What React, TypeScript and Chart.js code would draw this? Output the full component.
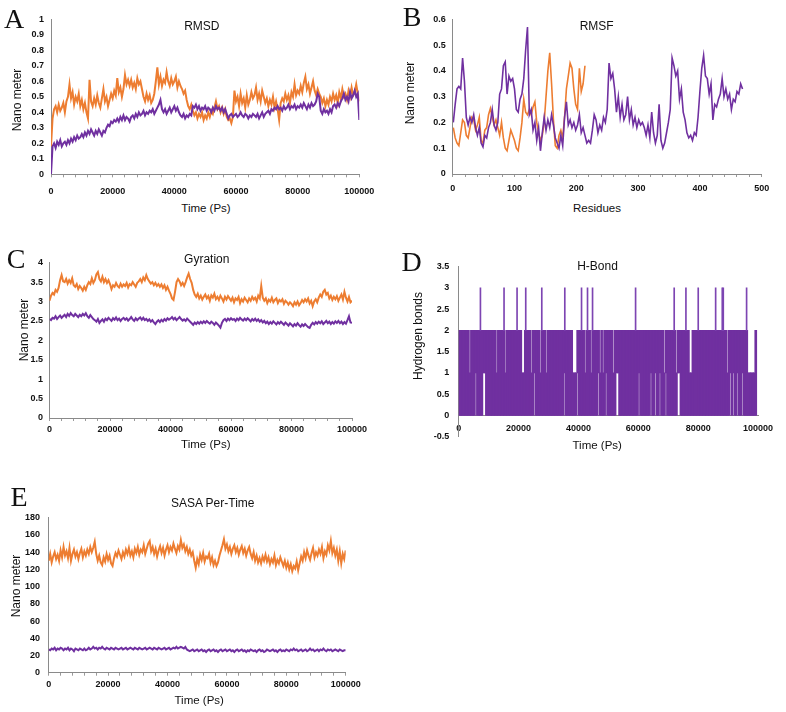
import React, { useEffect, useRef } from 'react';
import { Chart, registerables } from 'chart.js';

Chart.register(...registerables);

const ORANGE = '#ED7D31';
const PURPLE = '#7030A0';
const PEAK_PURPLE = '#7d45b2';
const AXIS_GREY = '#8a8a8a';
const TICK_GREY = '#9a9a9a';
const SANS = '"Liberation Sans", Arial, Helvetica, sans-serif';
const SERIF = '"Liberation Serif", "Times New Roman", Times, serif';

// ---- RMSD (nm), one sample every 500 ps from 0 to 100000 ps ----
const rmsdStepPs = 500;
const rmsdOrange = [
  0.18, 0.36, 0.42, 0.44, 0.40, 0.45, 0.41, 0.43, 0.46, 0.40,
  0.47, 0.50, 0.58, 0.49, 0.53, 0.45, 0.50, 0.47, 0.52, 0.44,
  0.48, 0.42, 0.46, 0.40, 0.36, 0.61, 0.47, 0.44, 0.49, 0.45,
  0.51, 0.46, 0.43, 0.49, 0.55, 0.47, 0.50, 0.44, 0.48, 0.52,
  0.49, 0.54, 0.51, 0.62, 0.53, 0.56, 0.50, 0.55, 0.64, 0.58,
  0.61, 0.57, 0.61, 0.56, 0.59, 0.55, 0.62, 0.58, 0.60, 0.55,
  0.50, 0.47, 0.52, 0.48, 0.51, 0.46, 0.48, 0.52, 0.60, 0.69,
  0.58, 0.63, 0.57, 0.61, 0.59, 0.66, 0.60, 0.57, 0.62, 0.58,
  0.60, 0.63, 0.56, 0.60, 0.57, 0.55, 0.52, 0.54, 0.48, 0.44,
  0.42, 0.45, 0.41, 0.38, 0.40, 0.36, 0.39, 0.37, 0.40, 0.35,
  0.38, 0.36, 0.40, 0.37, 0.41, 0.39, 0.43, 0.47, 0.42, 0.44,
  0.40, 0.43, 0.39, 0.42, 0.37, 0.35, 0.36, 0.33, 0.37, 0.54,
  0.47, 0.50, 0.44, 0.52, 0.46, 0.49, 0.43, 0.51, 0.45, 0.48,
  0.53, 0.49, 0.51, 0.56, 0.48, 0.52, 0.47, 0.54, 0.50, 0.46,
  0.49, 0.44, 0.48, 0.45, 0.50, 0.43, 0.47, 0.42, 0.35, 0.46,
  0.49, 0.47, 0.52, 0.48, 0.51, 0.46, 0.53, 0.50, 0.58, 0.51,
  0.54, 0.52, 0.57, 0.53, 0.59, 0.63, 0.55, 0.58, 0.52, 0.56,
  0.60, 0.54, 0.51, 0.55, 0.52, 0.50, 0.46, 0.49, 0.44, 0.48,
  0.45, 0.50, 0.47, 0.52, 0.48, 0.51, 0.46, 0.53, 0.49, 0.55,
  0.50, 0.52, 0.48, 0.54, 0.50, 0.56, 0.51, 0.53, 0.58, 0.52,
  0.47,
];
const rmsdPurple = [
  0.00, 0.18, 0.20, 0.17, 0.21, 0.19, 0.22, 0.18, 0.20, 0.21,
  0.19, 0.22, 0.20, 0.23, 0.21, 0.24, 0.22, 0.25, 0.23, 0.24,
  0.26, 0.24, 0.27, 0.25, 0.28, 0.26, 0.29, 0.27, 0.25, 0.28,
  0.26, 0.29, 0.27, 0.25, 0.28, 0.27, 0.30, 0.32, 0.31, 0.34,
  0.33, 0.35, 0.34, 0.36, 0.34, 0.37, 0.35, 0.38, 0.35, 0.37,
  0.36, 0.34, 0.37, 0.38, 0.36, 0.39, 0.37, 0.40, 0.38, 0.39,
  0.41, 0.38, 0.40, 0.39, 0.41, 0.40, 0.42, 0.39, 0.41, 0.43,
  0.45, 0.48, 0.42, 0.40, 0.42, 0.39, 0.41, 0.43, 0.40, 0.42,
  0.44, 0.41, 0.43, 0.40, 0.38, 0.37, 0.39, 0.36, 0.38, 0.37,
  0.39, 0.38, 0.44, 0.43, 0.45, 0.42, 0.44, 0.41, 0.43, 0.42,
  0.44, 0.41, 0.43, 0.42, 0.40, 0.43, 0.41, 0.44, 0.42, 0.43,
  0.41, 0.43, 0.40, 0.42, 0.39, 0.36, 0.38, 0.39, 0.37, 0.38,
  0.39, 0.37, 0.38, 0.40, 0.38, 0.37, 0.39, 0.38, 0.36, 0.38,
  0.37, 0.39, 0.38, 0.37, 0.39, 0.36, 0.38, 0.40, 0.37, 0.39,
  0.40, 0.41, 0.39, 0.42, 0.41, 0.43, 0.42, 0.44, 0.42, 0.43,
  0.41, 0.44, 0.42, 0.43, 0.45, 0.42, 0.44, 0.43, 0.45, 0.42,
  0.44, 0.43, 0.45, 0.43, 0.46, 0.44, 0.42, 0.45, 0.43, 0.46,
  0.44, 0.45, 0.47, 0.52, 0.50, 0.41, 0.39, 0.42, 0.40, 0.41,
  0.39, 0.42, 0.40, 0.44, 0.45, 0.43, 0.46, 0.44, 0.47, 0.49,
  0.52, 0.48, 0.50, 0.47, 0.53, 0.49, 0.51, 0.54, 0.50, 0.52,
  0.35,
];

// ---- RMSF (nm) per residue, every third residue starting at residue 1 ----
const rmsfFirstResidue = 1;
const rmsfResidueStep = 3;
const rmsfPurple = [
  0.20, 0.27, 0.33, 0.34, 0.33, 0.45, 0.36, 0.22, 0.19, 0.22,
  0.20, 0.23, 0.18, 0.15, 0.18, 0.12, 0.105, 0.15, 0.14, 0.18,
  0.20, 0.25, 0.19, 0.17, 0.20, 0.31, 0.33, 0.42, 0.435, 0.31,
  0.38, 0.36, 0.37, 0.33, 0.25, 0.24, 0.29, 0.31, 0.37, 0.48,
  0.57, 0.23, 0.25, 0.17, 0.20, 0.13, 0.18, 0.09, 0.16, 0.22,
  0.17, 0.21, 0.18, 0.23, 0.19, 0.14, 0.12, 0.10, 0.15, 0.11,
  0.22, 0.28, 0.19, 0.21, 0.18, 0.20, 0.17, 0.19, 0.23, 0.16,
  0.18, 0.15, 0.12, 0.13, 0.12, 0.17, 0.23, 0.21, 0.16, 0.19,
  0.17, 0.22, 0.20, 0.25, 0.43, 0.37, 0.39, 0.33, 0.24, 0.30,
  0.22, 0.27, 0.21, 0.23, 0.30, 0.21, 0.25, 0.19, 0.22, 0.18,
  0.21, 0.19, 0.20, 0.18, 0.15, 0.19, 0.14, 0.24, 0.16, 0.12,
  0.15, 0.27, 0.13, 0.10, 0.12, 0.16, 0.20, 0.25, 0.45, 0.42,
  0.38, 0.40, 0.29, 0.33, 0.24, 0.21, 0.16, 0.14, 0.15, 0.13,
  0.16, 0.15, 0.22, 0.32, 0.41, 0.46, 0.38, 0.37, 0.31, 0.35,
  0.21, 0.27, 0.26, 0.29, 0.31, 0.37, 0.30, 0.33, 0.29, 0.31,
  0.25, 0.29, 0.28, 0.32, 0.31, 0.35, 0.33,
];
const rmsfOrange = [
  0.18, 0.14, 0.12, 0.11, 0.16, 0.21, 0.20, 0.15, 0.14, 0.18,
  0.22, 0.21, 0.17, 0.19, 0.22, 0.13, 0.12, 0.17, 0.18, 0.23,
  0.255, 0.22, 0.19, 0.21, 0.18, 0.15, 0.20, 0.14, 0.10, 0.09,
  0.13, 0.17, 0.15, 0.13, 0.10, 0.09, 0.14, 0.20, 0.29, 0.24,
  0.23, 0.25, 0.23, 0.26, 0.28, 0.20, 0.16, 0.13, 0.15, 0.20,
  0.30, 0.40, 0.47, 0.35, 0.21, 0.11, 0.10, 0.15, 0.17, 0.14,
  0.22, 0.33, 0.38, 0.43, 0.41, 0.33, 0.27, 0.25, 0.41, 0.32,
  0.35, 0.42,
];

// ---- Radius of gyration (nm), every 500 ps ----
const gyrationStepPs = 500;
const gyrationOrange = [
  3.02, 3.15, 3.22, 3.18, 3.30, 3.25, 3.35, 3.55, 3.68, 3.52,
  3.50, 3.58, 3.46, 3.55, 3.48, 3.60, 3.42, 3.38, 3.45, 3.32,
  3.40, 3.35, 3.28, 3.38, 3.30, 3.42, 3.50, 3.45, 3.60, 3.48,
  3.55, 3.70, 3.76, 3.58, 3.52, 3.64, 3.50, 3.58, 3.48, 3.55,
  3.45, 3.32, 3.42, 3.38, 3.48, 3.40, 3.36, 3.46, 3.38, 3.44,
  3.40, 3.48, 3.36, 3.45, 3.42, 3.50, 3.44, 3.38, 3.48, 3.52,
  3.58, 3.50, 3.62, 3.55, 3.68, 3.58, 3.52, 3.46, 3.50, 3.42,
  3.48, 3.40, 3.45, 3.38, 3.44, 3.35, 3.42, 3.30, 3.38, 3.28,
  3.20, 3.08, 3.04, 3.25, 3.50, 3.58, 3.52, 3.42, 3.48, 3.40,
  3.50, 3.62, 3.72, 3.58, 3.48, 3.30, 3.18, 3.12, 3.20, 3.08,
  3.15, 3.05, 3.12, 3.18, 3.08, 3.14, 3.02, 3.16, 3.10, 3.20,
  3.06, 3.12, 3.04, 3.15, 3.08, 3.00, 3.12, 3.05, 3.14, 3.08,
  3.02, 3.10, 2.98, 3.08, 3.04, 3.12, 2.96, 3.06, 3.00, 3.10,
  3.04, 2.98, 3.08, 3.02, 3.12, 3.05, 3.10, 3.00, 3.15, 3.08,
  3.40, 3.10, 3.02, 3.08, 2.96, 3.05, 3.00, 3.10, 2.98, 3.04,
  3.08, 2.96, 3.04, 3.00, 3.06, 2.94, 3.02, 2.98, 2.92, 2.98,
  2.94, 2.88, 2.98, 2.92, 3.00, 2.90, 2.96, 3.04, 2.98, 3.06,
  3.00, 3.08, 2.95, 3.02, 2.88, 3.00, 3.06, 2.98, 3.10, 3.18,
  3.12, 3.25, 3.30, 3.18, 3.22, 3.08, 3.15, 3.04, 3.12, 3.06,
  3.14, 3.02, 3.10, 3.18, 3.05, 3.25, 3.10, 3.00, 3.12, 2.98,
  3.02,
];
const gyrationPurple = [
  2.55, 2.52, 2.58, 2.56, 2.62, 2.55, 2.60, 2.64, 2.58, 2.62,
  2.66, 2.60, 2.68, 2.63, 2.70, 2.65, 2.62, 2.68, 2.64, 2.60,
  2.66, 2.62, 2.68, 2.64, 2.70, 2.62, 2.58, 2.65, 2.60, 2.55,
  2.52, 2.48, 2.55, 2.45, 2.50, 2.54, 2.48, 2.56, 2.52, 2.58,
  2.54, 2.50, 2.57, 2.53, 2.59, 2.52, 2.56, 2.50, 2.55, 2.58,
  2.53, 2.57, 2.51, 2.55, 2.60, 2.54, 2.50, 2.57, 2.52, 2.56,
  2.59, 2.53, 2.58, 2.52, 2.55, 2.50, 2.54, 2.48, 2.52, 2.46,
  2.42, 2.48, 2.52, 2.47, 2.53, 2.49, 2.55, 2.51, 2.57, 2.53,
  2.56, 2.60, 2.54, 2.58, 2.52, 2.56, 2.60, 2.55, 2.51, 2.54,
  2.50, 2.56, 2.52, 2.48, 2.44, 2.40, 2.46, 2.42, 2.47, 2.43,
  2.48, 2.44, 2.49, 2.45, 2.50, 2.46, 2.43, 2.48, 2.45, 2.40,
  2.46, 2.42, 2.38, 2.33, 2.45, 2.52, 2.55, 2.50, 2.56, 2.52,
  2.57, 2.53, 2.55, 2.50, 2.56, 2.52, 2.58, 2.54, 2.51, 2.56,
  2.52, 2.57, 2.53, 2.49, 2.55, 2.51, 2.56, 2.50, 2.54, 2.48,
  2.52, 2.46, 2.50, 2.44, 2.48, 2.42, 2.47, 2.43, 2.49, 2.45,
  2.41, 2.47, 2.43, 2.48, 2.44, 2.40, 2.46, 2.42, 2.38, 2.44,
  2.40, 2.36, 2.42, 2.38, 2.44, 2.39, 2.35, 2.41, 2.37, 2.42,
  2.38, 2.34, 2.32, 2.40, 2.45, 2.41, 2.47, 2.43, 2.48, 2.44,
  2.49, 2.42, 2.46, 2.50, 2.44, 2.48, 2.42, 2.47, 2.43, 2.49,
  2.45, 2.50, 2.44, 2.48, 2.42, 2.47, 2.43, 2.52, 2.62, 2.46,
  2.45,
];

// ---- Hydrogen bonds: lowest / highest count inside each 500 ps window ----
const hbondWindowPs = 500;
const hbondWindowMin = [
  0, 0, 0, 0, 0, 0, 0, 0, 0, 0, 0, 1, 0, 0, 0, 0, 1, 1, 0, 0,
  0, 0, 0, 0, 0, 0, 0, 0, 0, 0, 0, 0, 0, 0, 0, 0, 0, 0, 0, 0,
  0, 0, 0, 0, 0, 0, 0, 0, 0, 0, 1, 0, 0, 0, 0, 0, 0, 0, 0, 0,
  0, 0, 0, 0, 0, 0, 0, 0, 0, 0, 1, 0, 0, 0, 0, 0, 0, 0, 0, 1,
  0, 0, 0, 0, 0, 0, 0, 0, 0, 0, 0, 0, 0, 1, 0, 0, 0, 0, 1, 0,
  0, 0, 0, 0, 0, 1, 1, 0, 0, 0, 0, 0, 0, 0, 0, 0, 0, 0, 0, 0,
  1, 0, 0, 0, 0, 0, 0, 0, 1, 0, 0, 1, 0, 0, 1, 0, 0, 0, 1, 0,
  0, 0, 0, 0, 0, 0, 1, 1, 0, 0, 0, 0, 0, 0, 0, 0, 0, 0, 0, 0,
  0, 0, 0, 0, 0, 0, 0, 0, 0, 0, 0, 0, 0, 0, 0, 0, 0, 0, 0, 0,
  0, 1, 0, 1, 0, 0, 1, 0, 0, 1, 0, 0, 0, 0, 0, 0, 0, 0, 0,
];
const hbondWindowMax = [
  2, 2, 2, 2, 2, 2, 2, 1, 2, 2, 2, 2, 2, 2, 2, 2, 2, 2, 2, 2,
  2, 2, 2, 2, 2, 1, 2, 2, 2, 2, 2, 1, 2, 2, 2, 2, 2, 2, 2, 2,
  2, 2, 1, 1, 2, 2, 2, 2, 1, 2, 2, 2, 2, 2, 1, 2, 2, 2, 1, 2,
  2, 2, 2, 2, 2, 2, 2, 2, 2, 2, 2, 2, 2, 2, 2, 2, 1, 1, 1, 2,
  2, 2, 2, 2, 1, 2, 2, 2, 1, 2, 2, 2, 2, 2, 1, 2, 1, 2, 2, 2,
  2, 2, 2, 1, 2, 2, 2, 2, 2, 2, 2, 2, 2, 2, 2, 2, 2, 2, 2, 2,
  2, 2, 2, 2, 2, 2, 2, 2, 2, 2, 2, 2, 2, 2, 2, 2, 2, 1, 2, 2,
  2, 2, 2, 2, 2, 1, 2, 2, 2, 2, 2, 2, 2, 2, 1, 1, 2, 2, 2, 2,
  2, 2, 2, 2, 2, 2, 2, 2, 2, 2, 2, 2, 2, 2, 2, 2, 2, 2, 2, 1,
  2, 2, 2, 2, 2, 2, 2, 2, 2, 2, 2, 2, 2, 1, 1, 1, 1, 1, 2,
];
// frames (ps) where a third hydrogen bond appears
const hbondTriplePs = [
  7260, 15150, 19500, 22400, 27760, 35450, 41040, 43040, 44720,
  59100, 72000, 75920, 80030, 85850, 88060, 88400, 96190,
];

// ---- SASA, every 500 ps ----
const sasaStepPs = 500;
const sasaOrange = [
  130, 138, 128, 135, 140, 132, 137, 130, 142, 134,
  146, 136, 141, 133, 145, 130, 138, 143, 135, 140,
  132, 139, 144, 134, 141, 136, 143, 138, 146, 140,
  145, 152, 138, 130, 136, 128, 125, 134, 129, 138,
  131, 136, 127, 124, 133, 139, 135, 142, 137, 132,
  140, 135, 143, 138, 145, 136, 141, 134, 144, 139,
  146, 137, 143, 140, 148, 138, 144, 150, 153, 141,
  146, 138, 144, 135, 142, 147, 139, 145, 136, 143,
  148, 140, 146, 142, 150, 144, 139, 147, 143, 154,
  145, 149, 141, 146, 138, 143, 136, 140, 130, 122,
  132, 126, 137, 131, 139, 129, 135, 133, 138, 128,
  134, 125, 130, 124, 128, 136, 142, 148, 155, 144,
  149, 141, 146, 138, 144, 148, 140, 145, 137, 143,
  147, 139, 144, 136, 142, 146, 138, 133, 140, 130,
  136, 128, 133, 127, 135, 130, 137, 129, 134, 126,
  132, 128, 136, 125, 131, 127, 134, 129, 124, 130,
  122, 128, 120, 126, 118, 124, 121, 129, 119, 127,
  135, 130, 140, 133, 142, 136, 131, 139, 145, 134,
  140, 136, 143, 138, 146, 133, 141, 137, 148, 142,
  153, 139, 145, 136, 143, 130, 141, 127, 138, 132,
  142,
];
const sasaPurple = [
  27, 26, 28, 27, 29, 26, 28, 27, 29, 28,
  26, 28, 27, 29, 26, 28, 27, 25, 28, 27,
  26, 28, 27, 26, 28, 26, 27, 29, 27, 28,
  30, 28, 29, 27, 29, 28, 30, 28, 27, 29,
  28, 27, 29, 28, 27, 29, 28, 27, 28, 29,
  27, 28, 29, 27, 28, 29, 28, 27, 29, 28,
  27, 29, 28, 27, 28, 29, 27, 28, 29, 28,
  27, 29, 28, 27, 29, 28, 27, 28, 29, 27,
  28, 29, 27, 28, 29, 28, 30, 28, 29, 30,
  29, 28, 30, 27, 26, 25, 26, 27, 25, 26,
  27, 25, 26, 27, 25, 26, 24, 26, 27, 25,
  26, 27, 25, 26, 24, 26, 27, 25, 26, 27,
  25, 26, 27, 25, 26, 24, 26, 27, 25, 26,
  27, 25, 26, 24, 26, 25, 27, 26, 25, 26,
  24, 26, 27, 25, 26, 24, 25, 27, 26, 25,
  26, 27, 25, 26, 24, 26, 27, 25, 26, 25,
  27, 26, 25, 27, 26, 28, 26, 27, 25, 26,
  27, 25, 26, 27, 25, 26, 28, 26, 27, 25,
  26, 27, 25, 27, 26, 28, 26, 25, 27, 26,
  27, 25, 26, 27, 26, 25, 27, 26, 25, 26,
  26,
];

// ---------------- chart helpers ----------------
const toPoints = (values: number[], step: number, start = 0) =>
  values.map((v, i) => ({ x: start + i * step, y: v }));

const tickFont = { family: SANS, size: 9, weight: 'bold' as const };

// pin an axis to a fixed thickness and drop the extra label padding Chart.js reserves
function lockScale(size: number, horizontal: boolean) {
  return (scale: any) => {
    if (horizontal) scale.height = size;
    else scale.width = size;
    scale.paddingLeft = 0;
    scale.paddingRight = 0;
    scale.paddingTop = 0;
    scale.paddingBottom = 0;
  };
}

function xAxis(max: number, step: number, labelEvery: number, height: number, padding: number, marks = true): any {
  return {
    type: 'linear',
    min: 0,
    max,
    offset: false,
    ticks: {
      stepSize: step,
      autoSkip: false,
      maxRotation: 0,
      minRotation: 0,
      padding,
      color: '#111',
      font: tickFont,
      callback: (v: number) => {
        const n = Math.round(v);
        return n % labelEvery === 0 ? String(n) : '';
      },
    },
    grid: {
      display: marks,
      drawOnChartArea: false,
      drawTicks: marks,
      tickLength: marks ? 3 : 0,
      color: TICK_GREY,
      offset: false,
    },
    border: { display: true, color: AXIS_GREY, width: 1 },
    afterFit: lockScale(height, true),
  };
}

function yAxis(min: number, max: number, step: number, width: number, padding: number): any {
  return {
    type: 'linear',
    min,
    max,
    ticks: {
      stepSize: step,
      autoSkip: false,
      padding,
      color: '#111',
      font: tickFont,
      callback: (v: number) => String(Math.round(v * 100) / 100),
    },
    grid: { display: false, drawTicks: false, tickLength: 0 },
    border: { display: true, color: AXIS_GREY, width: 1 },
    afterFit: lockScale(width, false),
  };
}

const lineSet = (data: any[], color: string, width = 1.5) => ({
  data,
  borderColor: color,
  backgroundColor: color,
  borderWidth: width,
  pointRadius: 0,
  tension: 0,
  fill: false,
});

const baseOptions = (padding: any, scales: any): any => ({
  responsive: false,
  animation: false,
  devicePixelRatio: 1,
  events: [],
  layout: { padding },
  plugins: { legend: { display: false }, tooltip: { enabled: false }, title: { display: false } },
  scales,
});

function rmsdConfig(): any {
  return {
    type: 'line',
    data: {
      datasets: [
        lineSet(toPoints(rmsdPurple, rmsdStepPs), PURPLE, 2),
        lineSet(toPoints(rmsdOrange, rmsdStepPs), ORANGE, 2),
      ],
    },
    options: baseOptions(
      { left: 0, top: 19.3, right: 33.7, bottom: 0 },
      { x: xAxis(100000, 4000, 20000, 25.7, 8.8), y: yAxis(0, 1, 0.1, 51, 7) }
    ),
  };
}

function rmsfConfig(): any {
  return {
    type: 'line',
    data: {
      datasets: [
        lineSet(toPoints(rmsfPurple, rmsfResidueStep, rmsfFirstResidue), PURPLE, 1.6),
        lineSet(toPoints(rmsfOrange, rmsfResidueStep, rmsfFirstResidue), ORANGE, 1.6),
      ],
    },
    options: baseOptions(
      { left: 0, top: 19.3, right: 24.3, bottom: 0 },
      { x: xAxis(500, 20, 100, 26, 5.9), y: yAxis(0, 0.6, 0.1, 59.7, 7) }
    ),
  };
}

function gyrationConfig(): any {
  return {
    type: 'line',
    data: {
      datasets: [
        lineSet(toPoints(gyrationPurple, gyrationStepPs), PURPLE, 2),
        lineSet(toPoints(gyrationOrange, gyrationStepPs), ORANGE, 2),
      ],
    },
    options: baseOptions(
      { left: 0, top: 27.7, right: 41, bottom: 0 },
      { x: xAxis(100000, 4000, 20000, 37, 3.4), y: yAxis(0, 4, 0.5, 49.5, 6.4) }
    ),
  };
}

function hbondConfig(): any {
  const windows = hbondWindowMin.map((lo, b) => ({
    x: b * hbondWindowPs + hbondWindowPs / 2,
    y: [lo, hbondWindowMax[b]],
  }));
  const triples = hbondTriplePs.map((t) => ({ x: t, y: [2, 3] }));
  const x = xAxis(100000, 20000, 20000, 20, 7.4, false);
  x.position = { y: 0 };
  return {
    type: 'bar',
    data: {
      datasets: [
        { data: triples, backgroundColor: PEAK_PURPLE, borderWidth: 0, barThickness: 1, grouped: false },
        { data: windows, backgroundColor: PURPLE, borderWidth: 0, barThickness: 2, grouped: false },
      ],
    },
    options: baseOptions(
      { left: 0, top: 31.7, right: 28, bottom: 18.3 },
      { x, y: yAxis(-0.5, 3.5, 0.5, 65.7, 9.4) }
    ),
  };
}

function sasaConfig(): any {
  return {
    type: 'line',
    data: {
      datasets: [
        lineSet(toPoints(sasaPurple, sasaStepPs), PURPLE, 2),
        lineSet(toPoints(sasaOrange, sasaStepPs), ORANGE, 2),
      ],
    },
    options: baseOptions(
      { left: 0, top: 37.7, right: 47.3, bottom: 0 },
      { x: xAxis(100000, 4000, 20000, 39.3, 3.4), y: yAxis(0, 180, 20, 48.7, 8.7) }
    ),
  };
}

// ---------------- components ----------------
function ChartCanvas({ left, top, width, height, build }: any) {
  const ref = useRef<HTMLCanvasElement>(null);
  useEffect(() => {
    const chart = new Chart(ref.current as HTMLCanvasElement, build());
    return () => chart.destroy();
  }, []);
  return (
    <canvas
      ref={ref}
      width={width}
      height={height}
      style={{ position: 'absolute', left, top, width, height }}
    />
  );
}

function Label({ x, y, size, rotate = false, family = SANS, children }: any) {
  return (
    <div
      style={{
        position: 'absolute',
        left: x,
        top: y,
        transform: `translate(-50%, -50%)${rotate ? ' rotate(-90deg)' : ''}`,
        fontFamily: family,
        fontSize: size,
        lineHeight: 1,
        whiteSpace: 'nowrap',
        color: '#111',
      }}
    >
      {children}
    </div>
  );
}

export default function App() {
  return (
    <div
      style={{
        position: 'absolute',
        left: 0,
        top: 0,
        width: 786,
        height: 712,
        background: '#ffffff',
        overflow: 'hidden',
      }}
    >
      <ChartCanvas left={0} top={0} width={393} height={200} build={rmsdConfig} />
      <ChartCanvas left={393} top={0} width={393} height={200} build={rmsfConfig} />
      <ChartCanvas left={0} top={235} width={393} height={220} build={gyrationConfig} />
      <ChartCanvas left={393} top={235} width={393} height={220} build={hbondConfig} />
      <ChartCanvas left={0} top={480} width={393} height={232} build={sasaConfig} />

      {/* panel letters */}
      <Label x={14} y={19} size={28} family={SERIF}>A</Label>
      <Label x={412} y={17} size={28} family={SERIF}>B</Label>
      <Label x={16} y={259} size={28} family={SERIF}>C</Label>
      <Label x={411.7} y={261.7} size={28} family={SERIF}>D</Label>
      <Label x={19} y={496.7} size={28} family={SERIF}>E</Label>

      {/* panel titles */}
      <Label x={201.8} y={25.8} size={12}>RMSD</Label>
      <Label x={596.7} y={25.8} size={12}>RMSF</Label>
      <Label x={206.8} y={259.3} size={12}>Gyration</Label>
      <Label x={597.5} y={265.8} size={12}>H-Bond</Label>
      <Label x={212.7} y={502.5} size={12}>SASA Per-Time</Label>

      {/* value-axis titles */}
      <Label x={17.2} y={99.5} size={12} rotate>Nano meter</Label>
      <Label x={410} y={93.3} size={12} rotate>Nano meter</Label>
      <Label x={23.8} y={330.3} size={12} rotate>Nano meter</Label>
      <Label x={417.5} y={335.5} size={12} rotate>Hydrogen bonds</Label>
      <Label x={16.2} y={586.2} size={12} rotate>Nano meter</Label>

      {/* time / residue axis titles */}
      <Label x={206} y={209} size={11.5}>Time (Ps)</Label>
      <Label x={597} y={209} size={11.5}>Residues</Label>
      <Label x={205.8} y={445} size={11.5}>Time (Ps)</Label>
      <Label x={597.2} y={446} size={11.5}>Time (Ps)</Label>
      <Label x={199.2} y={701} size={11.5}>Time (Ps)</Label>
    </div>
  );
}
